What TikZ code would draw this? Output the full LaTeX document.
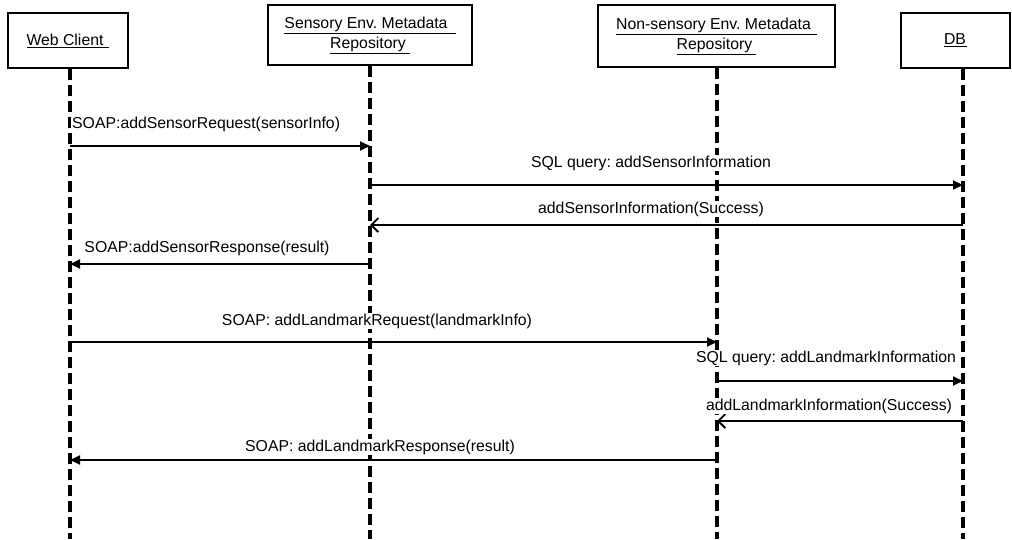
\documentclass[tikz,border=0pt]{standalone}
\usepackage{fontspec}
\setmainfont{Liberation Sans}
\usetikzlibrary{arrows.meta}
\frenchspacing
\begin{document}
\begin{tikzpicture}[x=1pt,y=-1pt,
  actor/.style={draw,line width=2pt,minimum height=55pt,align=center,font=\fontsize{15.8}{19}\selectfont,inner sep=0pt},
  life/.style={line width=3.6pt,dash pattern=on 11pt off 5pt},
  msg/.style={line width=1.8pt},
  req/.style={msg,-{Triangle[length=10pt,width=9pt]}},
  ret/.style={msg,-{Straight Barb[length=7pt,width=14pt,line width=1.8pt]}},
  lbl/.style={font=\fontsize{15.8}{18}\selectfont,inner sep=1pt,fill=white}]
\useasboundingbox (0,0) rectangle (1012,539);
% actors
\node[actor,minimum width=120pt] (wc) at (68,40.5) {\underline{Web Client\hspace{6pt}}};
\node[actor,minimum width=204pt,minimum height=60pt] (sr) at (370,35) {\underline{Sensory Env. Metadata\hspace{8pt}}\\[1pt]\underline{Repository\hspace{4pt}}};
\node[actor,minimum width=237pt,minimum height=62pt] (nr) at (716.5,36) {\underline{Non-sensory Env. Metadata\hspace{6pt}}\\[1pt]\underline{Repository\hspace{4pt}}};
\node[actor,minimum width=109pt] (db) at (955.5,40.5) {\underline{DB\hspace{1pt}}};
% lifeline ends
\coordinate (wcE) at (70,539);
\coordinate (srE) at (370,539);
\coordinate (nrE) at (717,539);
\coordinate (dbE) at (963,539);
\draw[life] (wc.south -| wcE) -- (wcE);
\draw[life] (sr.south -| srE) -- (srE);
\draw[life] (nr.south -| nrE) -- (nrE);
\draw[life] (db.south -| dbE) -- (dbE);
% message anchors
\coordinate (a1) at (70,146);  \coordinate (b1) at (370,146);
\coordinate (a2) at (370,185); \coordinate (b2) at (963,185);
\coordinate (a3) at (963,225); \coordinate (b3) at (370,225);
\coordinate (a4) at (370,264); \coordinate (b4) at (70,264);
\coordinate (a5) at (70,342);  \coordinate (b5) at (717,342);
\coordinate (a6) at (717,381); \coordinate (b6) at (963,381);
\coordinate (a7) at (963,421); \coordinate (b7) at (717,421);
\coordinate (a8) at (717,460); \coordinate (b8) at (70,460);
\draw[req] (a1) -- (b1);
\draw[req] (a2) -- (b2);
\draw[ret] (a3) -- (b3);
\draw[req] (a4) -- (b4);
\draw[req] (a5) -- (b5);
\draw[req] (a6) -- (b6);
\draw[ret] (a7) -- (b7);
\draw[req] (a8) -- (b8);
% labels
\node[lbl,anchor=west] (l1) at (71,124) {SOAP:addSensorRequest(sensorInfo)};
\node[lbl] (l2) at (651,163) {SQL query: addSensorInformation};
\node[lbl] (l3) at (651,209) {addSensorInformation(Success)};
\node[lbl] (l4) at (207,248) {SOAP:addSensorResponse(result)};
\node[lbl] (l5) at (377,321) {SOAP: addLandmarkRequest(landmarkInfo)};
\node[lbl] (l6) at (826,358) {SQL query: addLandmarkInformation};
\node[lbl] (l7) at (829,406) {addLandmarkInformation(Success)};
\node[lbl] (l8) at (380,447) {SOAP: addLandmarkResponse(result)};
\end{tikzpicture}
\end{document}
